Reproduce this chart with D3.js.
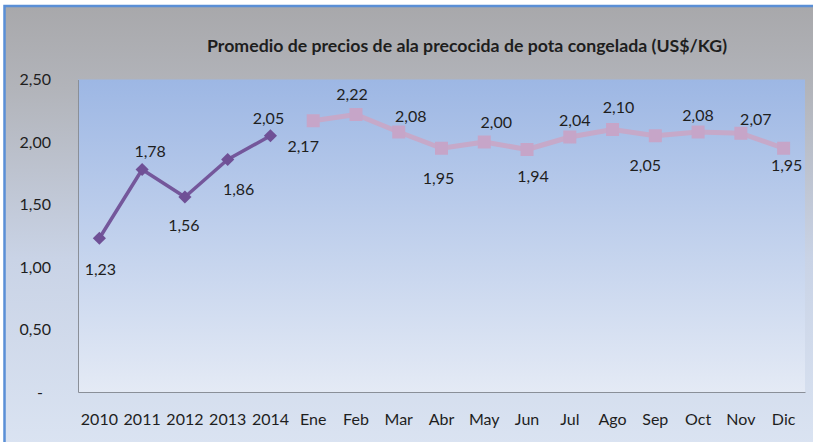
<!DOCTYPE html>
<html>
<head>
<meta charset="utf-8">
<script src="https://cdn.jsdelivr.net/npm/d3@7"></script>
<style>
  body { margin: 0; background: #fff; }
  text { font-family: Lato, "Open Sans", sans-serif; fill: #1e1e1e; }
</style>
</head>
<body>
<div id="chart"></div>
<script>
// data
const years = ["2010", "2011", "2012", "2013", "2014"];
const yearValues = [1.23, 1.78, 1.56, 1.86, 2.05];
const months = ["Ene", "Feb", "Mar", "Abr", "May", "Jun", "Jul", "Ago", "Sep", "Oct", "Nov", "Dic"];
const monthValues = [2.17, 2.22, 2.08, 1.95, 2.00, 1.94, 2.04, 2.10, 2.05, 2.08, 2.07, 1.95];
const yTicks = [0, 0.5, 1, 1.5, 2, 2.5];
const title = "Promedio de precios de ala precocida de pota congelada (US$/KG)";

// where each data label sits relative to its marker (dx, dy)
const yearLabelOffset = [[1, 31], [8, -18], [-1, 28], [11, 30], [-2, -17]];
const monthLabelOffset = [[-10, 26], [-4, -20], [12, -16], [-3, 30], [12, -20], [6, 27],
  [5, -17], [6, -22], [-10, 30], [0, -17], [15, -14], [3, 17]];

const W = 813, H = 442;
const plot = { left: 78, right: 805, top: 79.5, bottom: 392 };

const svg = d3.select("#chart").append("svg")
  .attr("width", W)
  .attr("height", H);

const defs = svg.append("defs");
const bgGrad = defs.append("linearGradient").attr("id", "bg")
  .attr("x1", 0).attr("y1", 0).attr("x2", 0).attr("y2", 1);
bgGrad.append("stop").attr("offset", "0%").attr("stop-color", "#a8a8ab");
bgGrad.append("stop").attr("offset", "18%").attr("stop-color", "#b2b4ba");
bgGrad.append("stop").attr("offset", "55%").attr("stop-color", "#c9d3e6");
bgGrad.append("stop").attr("offset", "100%").attr("stop-color", "#dce5f3");

const plotGrad = defs.append("linearGradient").attr("id", "plotbg")
  .attr("x1", 0).attr("y1", 0).attr("x2", 0).attr("y2", 1);
plotGrad.append("stop").attr("offset", "0%").attr("stop-color", "#9db7e4");
plotGrad.append("stop").attr("offset", "100%").attr("stop-color", "#e4eaf5");

// chart area with blue border
svg.append("rect")
  .attr("x", 4.5).attr("y", 6)
  .attr("width", 840).attr("height", 460)
  .attr("fill", "url(#bg)")
  .attr("stroke", "#5a8fd6")
  .attr("stroke-width", 2.5);

// plot area
svg.append("rect")
  .attr("x", plot.left).attr("y", plot.top)
  .attr("width", plot.right - plot.left)
  .attr("height", plot.bottom - plot.top)
  .attr("fill", "url(#plotbg)");

const categories = years.concat(months);

const x = d3.scaleBand()
  .domain(categories)
  .range([plot.left, plot.right]);

const y = d3.scaleLinear()
  .domain([0, 2.5])
  .range([plot.bottom, plot.top]);

const locale = d3.formatLocale({ decimal: ",", thousands: ".", grouping: [3], currency: ["$", ""] });
const fmt = locale.format(".2f");
const cx = d => x(d) + x.bandwidth() / 2;

// y axis
const yAxis = svg.append("g")
  .attr("transform", `translate(${plot.left},0)`)
  .call(d3.axisLeft(y).tickValues(yTicks).tickSize(0).tickSizeOuter(0).tickPadding(27)
    .tickFormat(d => d === 0 ? "-" : fmt(d)));
yAxis.select(".domain").attr("stroke", "#8a8f98").attr("stroke-width", 1);
yAxis.selectAll("text")
  .style("font-size", "16px")
  .attr("fill", "#1e1e1e")
  .attr("dx", d => d === 0 ? -8 : 0);

// x axis
const xAxis = svg.append("g")
  .attr("transform", `translate(0,${plot.bottom})`)
  .call(d3.axisBottom(x).tickSize(0).tickSizeOuter(0).tickPadding(22));
xAxis.select(".domain").attr("stroke", "#8a8f98").attr("stroke-width", 1);
xAxis.selectAll("text")
  .style("font-size", "16px")
  .attr("fill", "#1e1e1e");

// title, squeezed to the narrow width of the original face
svg.append("text")
  .attr("x", 467)
  .attr("y", 52)
  .attr("text-anchor", "middle")
  .attr("textLength", 520)
  .attr("lengthAdjust", "spacingAndGlyphs")
  .style("font-weight", "bold")
  .style("font-size", "17.5px")
  .text(title);

// series lines
const line = d3.line()
  .x(d => cx(d.cat))
  .y(d => y(d.value));

const yearData = years.map((c, i) => ({ cat: c, value: yearValues[i], off: yearLabelOffset[i] }));
const monthData = months.map((c, i) => ({ cat: c, value: monthValues[i], off: monthLabelOffset[i] }));

svg.append("path")
  .datum(monthData)
  .attr("d", line)
  .attr("fill", "none")
  .attr("stroke", "#c6a9c9")
  .attr("stroke-width", 5)
  .attr("stroke-linejoin", "round");

svg.selectAll(".sq")
  .data(monthData)
  .enter()
  .append("rect")
  .attr("class", "sq")
  .attr("x", d => cx(d.cat) - 6.5)
  .attr("y", d => y(d.value) - 6.5)
  .attr("width", 13)
  .attr("height", 13)
  .attr("fill", "#c6a5c8");

svg.append("path")
  .datum(yearData)
  .attr("d", line)
  .attr("fill", "none")
  .attr("stroke", "#74579b")
  .attr("stroke-width", 3.5)
  .attr("stroke-linejoin", "round");

svg.selectAll(".dia")
  .data(yearData)
  .enter()
  .append("path")
  .attr("class", "dia")
  .attr("d", d3.symbol().type(d3.symbolDiamond2).size(110))
  .attr("transform", d => `translate(${cx(d.cat)},${y(d.value)})`)
  .attr("fill", "#6f5096");

// data labels
svg.selectAll(".lbl")
  .data(yearData.concat(monthData))
  .enter()
  .append("text")
  .attr("class", "lbl")
  .attr("x", d => cx(d.cat) + d.off[0])
  .attr("y", d => y(d.value) + d.off[1])
  .attr("dy", "0.35em")
  .attr("text-anchor", "middle")
  .style("font-size", "16px")
  .text(d => fmt(d.value));
</script>
</body>
</html>
